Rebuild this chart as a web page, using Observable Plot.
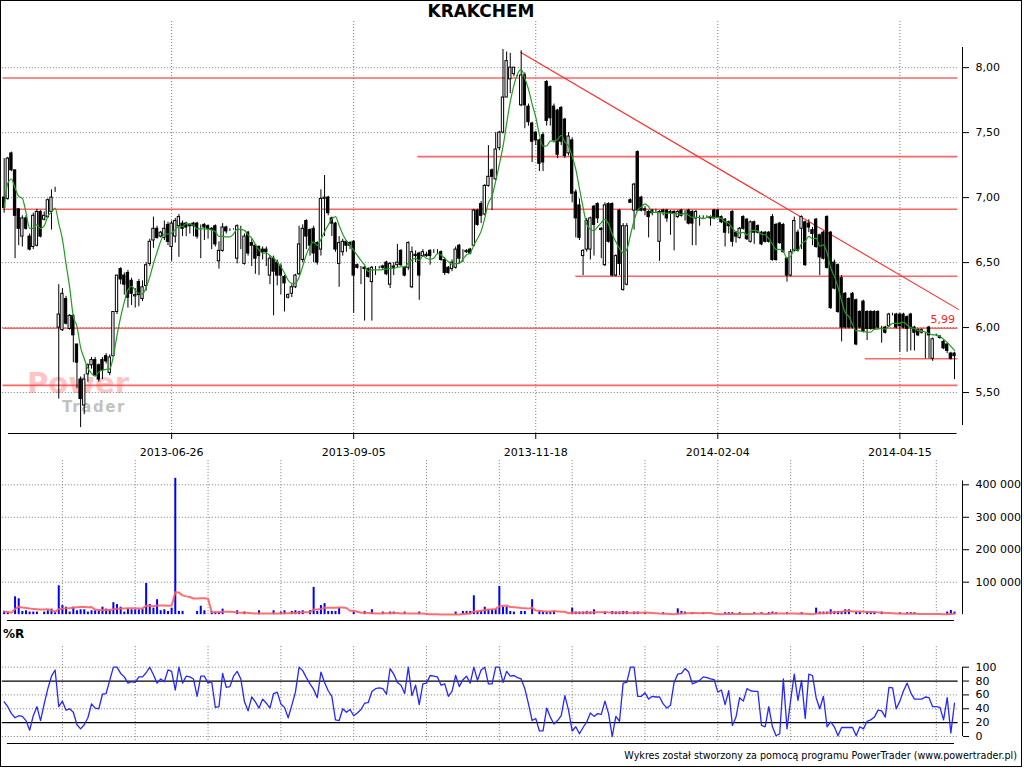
<!DOCTYPE html>
<html>
<head>
<meta charset="utf-8">
<script src="https://cdn.jsdelivr.net/npm/d3@7"></script>
<script src="https://cdn.jsdelivr.net/npm/@observablehq/plot@0.6"></script>
<style>
  html, body { margin: 0; padding: 0; background: #fff; }
  #wrap { position: relative; width: 1024px; height: 768px; overflow: hidden; font-family: "DejaVu Sans", sans-serif; color: #000; }
  .panel { position: absolute; left: 0; }
  .panel svg { display: block; overflow: visible; }
  #frame { position: absolute; left: 0; top: 0; width: 1022px; height: 767px; border: 1px solid #000; box-sizing: border-box; pointer-events: none; }
  #title { position: absolute; top: 1px; left: 331px; width: 300px; text-align: center; font-weight: bold; font-size: 17px; line-height: 20px; }
  #wlabel { position: absolute; top: 627px; left: 3px; font-weight: bold; font-size: 12px; line-height: 14px; }
  #footer { position: absolute; top: 750px; right: 7px; font-size: 9.6px; line-height: 12px; white-space: nowrap; }
  #wm1 { position: absolute; left: 27px; top: 366px; font-size: 29px; font-weight: bold; color: rgba(255,110,110,0.42); line-height: 34px; }
  #wm2 { position: absolute; left: 62px; top: 398px; font-size: 15px; font-weight: bold; letter-spacing: 1.6px; color: rgba(140,140,140,0.55); line-height: 18px; }
</style>
</head>
<body>
<div id="wrap">
  <div id="wm1">Power</div>
  <div id="wm2">Trader</div>
  <div id="price" class="panel" style="top:0px"></div>
  <div id="vol" class="panel" style="top:440px"></div>
  <div id="wr" class="panel" style="top:620px"></div>
  <div id="title">KRAKCHEM</div>
  <div id="wlabel">%R</div>
  <div id="footer">Wykres został stworzony za pomocą programu PowerTrader (www.powertrader.pl)</div>
  <div id="frame"></div>
</div>
<script>
// ---------- DATA ----------
const dateTickIdx = [46, 96, 146, 196, 246];
const dateLabels = ["2013-06-26", "2013-09-05", "2013-11-18", "2014-02-04", "2014-04-15"];
const subGridIdx = [16, 36, 56, 76, 96, 116, 136, 156, 176, 196, 216, 236, 256];
const priceTicks = [5.5, 6.0, 6.5, 7.0, 7.5, 8.0];
const volumeTicks = [100000, 200000, 300000, 400000];
const wrTicks = [0, 20, 40, 60, 80, 100];
const wrDotted = [0, 40, 60, 100];
const wrLevels = [20, 80];

const open = [
7.00,6.99,7.34,7.21,6.91,6.70,6.84,6.70,6.62,6.63,
6.89,6.83,6.85,6.89,7.06,6.00,5.98,6.22,5.99,6.09,
5.87,5.60,5.40,5.64,5.71,5.75,5.71,5.75,5.78,5.65,
5.78,6.12,6.45,6.40,6.42,6.36,6.24,6.35,6.22,6.32,
6.49,6.67,6.76,6.70,6.69,6.79,6.62,6.70,6.78,6.80,
6.80,6.79,6.80,6.80,6.77,6.79,6.78,6.76,6.78,6.51,
6.59,6.77,6.75,6.75,6.53,6.76,6.49,6.73,6.65,6.63,
6.62,6.60,6.60,6.40,6.53,6.50,6.47,6.39,6.23,6.26,
6.31,6.41,6.52,6.82,6.75,6.76,6.65,6.60,6.99,7.00,
6.84,6.80,6.49,6.58,6.66,6.65,6.66,6.48,6.46,6.46,
6.45,6.35,6.46,6.46,6.47,6.50,6.33,6.47,6.48,6.59,
6.46,6.46,6.31,6.56,6.57,6.55,6.56,6.59,6.59,6.58,
6.58,6.52,6.46,6.45,6.46,6.63,6.58,6.58,6.60,6.63,
6.90,6.95,6.87,7.09,7.21,7.14,7.38,7.50,7.77,7.91,
7.95,7.94,7.71,7.94,7.70,7.57,7.50,7.44,7.48,7.89,
7.85,7.70,7.67,7.69,7.60,7.34,7.44,7.04,6.94,6.55,
6.60,6.60,6.93,6.95,6.76,6.48,6.95,6.95,6.40,6.90,
6.29,6.33,6.98,6.90,7.35,7.00,6.91,6.89,6.90,6.90,
6.66,6.90,6.90,6.89,6.89,6.85,6.90,6.89,6.90,6.89,
6.84,6.85,6.85,6.85,6.85,6.90,6.90,6.85,6.83,6.81,
6.89,6.73,6.69,6.85,6.83,6.66,6.81,6.78,6.73,6.73,
6.73,6.85,6.79,6.80,6.79,6.53,6.40,6.59,6.73,6.76,
6.81,6.80,6.75,6.83,6.71,6.73,6.85,6.73,6.50,6.48,
6.38,6.26,6.22,6.26,6.21,6.12,6.20,6.12,6.12,6.12,
6.12,6.00,6.00,6.01,6.10,6.10,6.10,6.10,6.08,6.10,
6.00,5.98,5.96,5.95,6.00,5.76,5.94,5.93,5.89,5.87,
5.80,5.80];
const high = [
7.30,7.31,7.35,7.21,6.91,6.86,6.86,6.72,6.88,6.91,
6.90,6.89,6.99,7.06,7.08,6.33,6.30,6.24,6.10,6.10,
5.87,5.62,5.64,5.72,5.77,5.77,5.72,5.77,5.80,5.79,
6.12,6.40,6.46,6.42,6.44,6.38,6.30,6.37,6.36,6.50,
6.68,6.85,6.78,6.74,6.82,6.81,6.82,6.84,6.87,6.82,
6.81,6.80,6.81,6.81,6.79,6.80,6.79,6.77,6.79,6.66,
6.80,6.78,6.76,6.76,6.79,6.78,6.72,6.74,6.68,6.64,
6.63,6.62,6.62,6.55,6.55,6.52,6.49,6.40,6.26,6.33,
6.41,6.78,6.79,6.83,6.76,6.78,6.66,7.06,7.17,7.01,
6.85,6.81,6.70,6.68,6.67,6.66,6.67,6.49,6.47,6.47,
6.46,6.47,6.47,6.47,6.48,6.51,6.50,6.50,6.64,6.60,
6.47,6.66,6.62,6.59,6.58,6.60,6.58,6.60,6.60,6.60,
6.59,6.54,6.47,6.52,6.62,6.64,6.60,6.60,6.61,6.91,
6.91,6.97,7.10,7.40,7.22,7.50,7.51,8.14,8.12,8.11,
8.00,7.95,8.13,7.96,7.72,7.58,7.51,7.45,7.50,7.90,
7.86,7.72,7.68,7.70,7.61,7.50,7.46,7.06,6.99,6.60,
6.84,6.85,6.94,6.96,6.77,6.96,6.96,6.96,6.56,6.91,
6.80,6.80,6.99,7.11,7.36,7.01,6.93,6.90,6.91,6.91,
6.90,6.91,6.91,6.90,6.90,6.90,6.91,6.90,6.91,6.90,
6.90,6.86,6.86,6.86,6.86,6.91,6.91,6.86,6.84,6.82,
6.90,6.74,6.77,6.86,6.84,6.82,6.82,6.79,6.74,6.74,
6.74,6.87,6.80,6.81,6.80,6.54,6.60,6.85,6.75,6.86,
6.82,6.83,6.77,6.84,6.72,6.74,6.86,6.74,6.52,6.49,
6.40,6.27,6.23,6.27,6.22,6.13,6.21,6.13,6.13,6.13,
6.13,6.01,6.01,6.11,6.11,6.11,6.11,6.11,6.09,6.11,
6.01,5.99,5.99,5.96,6.01,5.92,5.95,5.94,5.90,5.88,
5.81,5.81];
const low = [
6.88,6.98,7.20,6.53,6.63,6.62,6.75,6.59,6.60,6.62,
6.69,6.82,6.84,6.75,7.04,5.45,5.97,6.02,5.98,5.73,
5.53,5.23,5.33,5.58,5.68,5.62,5.58,5.60,5.72,5.63,
5.77,6.10,6.33,6.25,6.15,6.17,6.15,6.16,6.20,6.28,
6.47,6.61,6.68,6.69,6.67,6.63,6.51,6.65,6.54,6.70,
6.70,6.72,6.70,6.68,6.53,6.67,6.68,6.60,6.62,6.45,
6.58,6.72,6.74,6.75,6.49,6.60,6.48,6.55,6.47,6.41,
6.40,6.52,6.47,6.33,6.09,6.32,6.25,6.12,6.22,6.23,
6.30,6.40,6.50,6.60,6.55,6.50,6.48,6.55,6.70,6.86,
6.70,6.58,6.31,6.55,6.58,6.60,6.11,6.45,6.33,6.05,
6.38,6.05,6.40,6.45,6.44,6.40,6.30,6.40,6.46,6.47,
6.39,6.44,6.30,6.50,6.21,6.54,6.54,6.48,6.57,6.56,
6.51,6.40,6.41,6.43,6.45,6.49,6.50,6.57,6.56,6.62,
6.78,6.80,6.86,7.08,6.90,7.13,7.36,7.49,7.77,7.80,
7.93,7.93,7.70,7.53,7.55,7.27,7.40,7.20,7.20,7.55,
7.55,7.42,7.30,7.40,7.30,7.32,6.96,6.69,6.67,6.40,
6.58,6.52,6.55,6.80,6.53,6.47,6.65,6.39,6.39,6.40,
6.28,6.32,6.96,6.75,6.89,6.89,6.86,6.69,6.86,6.88,
6.51,6.86,6.81,6.71,6.59,6.84,6.85,6.82,6.79,6.63,
6.63,6.78,6.84,6.84,6.78,6.83,6.84,6.80,6.62,6.72,
6.62,6.65,6.68,6.75,6.67,6.65,6.64,6.72,6.63,6.65,
6.65,6.51,6.51,6.64,6.57,6.35,6.39,6.58,6.58,6.60,
6.47,6.73,6.63,6.61,6.40,6.52,6.45,6.14,6.29,6.11,
5.89,5.99,5.99,5.99,5.86,5.99,5.96,5.90,5.98,5.98,
5.99,5.88,5.95,6.00,6.09,5.99,5.81,5.99,5.81,5.82,
5.82,5.93,5.95,5.76,5.76,5.74,5.93,5.91,5.83,5.80,
5.75,5.60];
const close = [
6.92,7.30,7.21,6.86,6.76,6.84,6.76,6.60,6.86,6.89,
6.70,6.86,6.98,7.00,7.06,6.10,6.26,6.03,6.09,5.94,
5.73,5.45,5.60,5.71,5.75,5.63,5.60,5.67,5.74,5.77,
6.12,6.40,6.37,6.33,6.23,6.26,6.25,6.25,6.31,6.48,
6.66,6.76,6.69,6.73,6.76,6.66,6.80,6.82,6.85,6.76,
6.77,6.78,6.78,6.70,6.77,6.77,6.76,6.75,6.64,6.59,
6.77,6.74,6.75,6.75,6.78,6.76,6.70,6.57,6.63,6.53,
6.55,6.58,6.58,6.53,6.43,6.40,6.40,6.34,6.25,6.31,
6.40,6.64,6.76,6.70,6.63,6.57,6.50,6.99,7.00,6.88,
6.80,6.60,6.65,6.66,6.63,6.63,6.40,6.46,6.46,6.45,
6.39,6.46,6.46,6.46,6.46,6.41,6.49,6.46,6.50,6.48,
6.40,6.65,6.58,6.55,6.40,6.58,6.55,6.55,6.59,6.58,
6.52,6.42,6.42,6.50,6.60,6.53,6.58,6.59,6.57,6.90,
6.79,6.86,7.09,7.16,7.16,7.37,7.50,7.77,8.05,8.00,
8.00,7.94,7.94,7.71,7.58,7.43,7.44,7.26,7.27,7.59,
7.61,7.44,7.33,7.43,7.32,7.47,7.03,6.84,6.69,6.59,
6.82,6.84,6.79,6.84,6.75,6.94,6.66,6.40,6.55,6.49,
6.78,6.78,6.96,7.10,6.90,6.90,6.90,6.85,6.88,6.90,
6.89,6.89,6.84,6.88,6.88,6.89,6.86,6.89,6.80,6.80,
6.89,6.85,6.85,6.85,6.84,6.84,6.85,6.81,6.73,6.78,
6.66,6.70,6.76,6.76,6.68,6.81,6.73,6.73,6.64,6.66,
6.66,6.52,6.52,6.65,6.58,6.40,6.58,6.82,6.59,6.85,
6.48,6.77,6.72,6.62,6.54,6.53,6.46,6.15,6.30,6.12,
6.00,6.00,6.00,6.00,5.87,6.00,5.97,5.99,5.99,5.99,
6.00,6.00,5.96,6.10,6.10,6.00,6.01,6.00,5.99,6.00,
5.96,5.94,5.98,5.95,5.94,5.91,5.94,5.92,5.84,5.82,
5.76,5.78];

// volume in thousands of shares
const volumeK = [
10,7,0,55,49,10,12,8,8,8,
0,8,12,17,8,89,28,23,8,23,
12,15,15,8,12,12,12,23,17,15,
37,31,23,8,17,15,15,15,17,96,
31,20,46,12,15,10,20,420,10,10,
0,0,0,10,26,12,0,10,8,8,
17,0,0,0,12,0,8,0,0,0,
12,0,0,0,12,0,8,12,0,10,
12,10,12,0,12,84,10,28,34,10,
10,10,20,0,0,0,8,0,0,10,
0,15,0,0,8,0,8,8,0,0,
8,0,0,0,8,0,0,0,0,0,
0,0,0,0,8,0,10,10,10,58,
10,12,23,15,15,15,87,23,23,10,
8,0,10,10,0,46,0,10,8,8,
8,10,0,0,0,0,20,8,8,8,
10,8,15,0,0,8,0,10,8,8,
10,10,0,8,8,0,6,0,0,0,
0,6,0,0,0,18,10,8,0,6,
0,0,6,0,0,0,0,0,6,6,
6,0,6,0,0,0,6,0,6,0,
6,8,6,0,0,6,0,0,0,6,
0,0,0,20,8,8,8,15,10,10,
10,15,15,0,8,8,0,8,8,8,
0,8,0,0,0,0,6,0,6,6,
6,0,0,0,0,0,0,0,0,8,
13,8];

// Williams %R
const williamsR = [
50,43,33,27,30,29,23,9,30,43,
23,47,69,87,96,43,51,38,40,35,
17,11,17,27,47,41,40,61,62,81,
100,100,91,86,77,79,78,86,86,92,
100,89,77,83,79,96,94,67,100,77,
87,86,83,58,87,87,77,79,42,43,
91,71,72,87,94,83,50,37,57,50,
41,54,48,41,62,64,47,42,27,45,
64,100,95,85,76,68,56,93,78,66,
58,24,23,40,35,39,30,34,39,48,
49,65,69,70,69,61,98,90,78,74,
62,100,59,74,46,76,77,88,87,86,
74,76,58,65,88,72,82,87,77,100,
81,96,100,76,76,100,100,78,94,87,
88,85,83,69,47,23,26,8,8,41,
28,18,23,30,59,38,8,14,4,13,
21,34,29,33,32,51,33,0,29,22,
77,78,100,100,58,58,63,54,58,57,
57,47,41,45,78,90,91,98,93,76,
78,81,86,85,83,82,64,67,46,66,
16,28,56,51,69,66,65,65,16,14,
43,14,1,4,83,11,52,90,52,81,
26,90,88,56,40,58,14,21,14,1,
13,13,13,13,1,14,11,22,24,28,
38,37,28,71,70,40,51,66,77,63,
54,54,54,57,56,43,43,42,24,56,
5,48];

// support / resistance levels drawn on the price chart
const supportLevel = [7.92, 7.315, 6.91, 6.395, 5.995, 5.76, 5.555];
const supportFrom  = [-0.3, 113.6, -0.3, 157, -0.3, 236.5, -0.3];
const supportTo    = [261.9, 261.9, 261.9, 261.9, 261.9, 261.9, 261.9];
// trend line endpoints (bar index, price)
const trendStart = [141.8, 8.118];
const trendEnd   = [262.2, 6.138];
// annotation
const noteText = ["5,99"];
const noteAt = [257.8];
const noteLevel = [5.995];

// ---------- BUILD ----------
const bars = open.map((o, i) => ({i, open: o, high: high[i], low: low[i], close: close[i]}));
const vols = volumeK.map((v, i) => ({i, v: v * 1000}));
const wr = williamsR.map((v, i) => ({i, v}));
const supports = supportLevel.map((l, k) => ({level: l, from: supportFrom[k], to: supportTo[k]}));
const trend = [{i1: trendStart[0], p1: trendStart[1], i2: trendEnd[0], p2: trendEnd[1]}];
const notes = noteText.map((t, k) => ({text: t, i: noteAt[k], level: noteLevel[k]}));

const xDomain = [-1, 263.2];
const gridFrom = -0.5, gridTo = 262;
const axisFrom = 1.2, axisTo = 261.7;
const dotted = {stroke: "#7a7a7a", strokeDasharray: "1 2", strokeWidth: 1};
const style = {background: "transparent", fontFamily: "'DejaVu Sans', sans-serif", fontSize: "11px", color: "#000", overflow: "visible"};
const base = {width: 1024, marginLeft: 0, marginRight: 62, x: {domain: xDomain, axis: null}, style};

const priceMin = 5.185, priceMax = 8.155;
const pricePlot = Plot.plot({
  ...base,
  height: 465, marginTop: 47, marginBottom: 32,
  y: {domain: [priceMin, priceMax], axis: null},
  marks: [
    Plot.ruleY(priceTicks, {x1: gridFrom, x2: gridTo, ...dotted}),
    Plot.ruleX(dateTickIdx, {y1: priceMin, y2: 8.36, ...dotted}),
    Plot.ruleY(supports, {y: "level", x1: "from", x2: "to", stroke: "#ff4a4a", strokeWidth: 1.6, strokeOpacity: 0.85}),
    Plot.link(trend, {x1: "i1", y1: "p1", x2: "i2", y2: "p2", stroke: "#ff2a2a", strokeWidth: 1.1}),
    Plot.ruleX(bars, {x: "i", y1: "low", y2: "high", stroke: "#000", strokeWidth: 1}),
    Plot.rect(bars.filter(d => d.close >= d.open), {x1: d => d.i - 0.32, x2: d => d.i + 0.32, y1: "open", y2: "close", fill: "#fff", stroke: "#000", strokeWidth: 1}),
    Plot.rect(bars.filter(d => d.close < d.open), {x1: d => d.i - 0.32, x2: d => d.i + 0.32, y1: "open", y2: "close", fill: "#000", stroke: "#000", strokeWidth: 1}),
    Plot.lineY(bars, Plot.windowY({k: 5, anchor: "end", reduce: "mean"}, {x: "i", y: "close", stroke: "#1f9e1f", strokeWidth: 1.2, curve: "monotone-x"})),
    Plot.text(notes, {x: "i", y: "level", text: "text", dy: -9, fill: "#ff2020", fontSize: 11}),
    Plot.axisY(priceTicks, {anchor: "right", label: null, tickSize: 6, tickPadding: 7, tickFormat: d => d.toFixed(2).replace(".", ",")}),
    Plot.ruleX([xDomain[1]], {y1: 5.246, y2: priceMax, stroke: "#000"}),
    Plot.axisX(dateTickIdx, {anchor: "bottom", label: null, tickSize: 6, tickPadding: 9, tickFormat: d => dateLabels[dateTickIdx.indexOf(d)]}),
    Plot.ruleY([priceMin], {x1: axisFrom, x2: axisTo, stroke: "#000"})
  ]
});
document.getElementById("price").append(pricePlot);

const volMin = -18000, volMax = 478000;
const volPlot = Plot.plot({
  ...base,
  height: 185, marginTop: 19, marginBottom: 5,
  y: {domain: [volMin, volMax], axis: null},
  marks: [
    Plot.ruleY(volumeTicks, {x1: gridFrom, x2: gridTo, ...dotted}),
    Plot.ruleX(subGridIdx, {y1: 0, y2: volMax, ...dotted}),
    Plot.ruleX(vols.filter(d => d.v > 0), {x: "i", y1: 0, y2: "v", stroke: "#0000ff", strokeWidth: 2}),
    Plot.lineY(vols, Plot.windowY({k: 10, anchor: "end", reduce: "mean"}, {x: "i", y: "v", stroke: "#ff5f5f", strokeWidth: 2, strokeOpacity: 0.9})),
    Plot.axisY(volumeTicks, {anchor: "right", label: null, tickSize: 6, tickPadding: 7, tickFormat: d => d3.format(",")(d).replace(/,/g, " ")}),
    Plot.ruleX([xDomain[1]], {y1: 0, y2: 412000, stroke: "#000"}),
    Plot.ruleY([volMin], {x1: 0.9, x2: 261, stroke: "#000"})
  ]
});
document.getElementById("vol").append(volPlot);

const wrMin = -10.1, wrMax = 131;
const wrPlot = Plot.plot({
  ...base,
  height: 130, marginTop: 25.2, marginBottom: 7,
  y: {domain: [wrMin, wrMax], axis: null},
  marks: [
    Plot.ruleY(wrDotted, {x1: gridFrom, x2: gridTo, ...dotted}),
    Plot.ruleX(subGridIdx, {y1: -6, y2: wrMax, ...dotted}),
    Plot.ruleY(wrLevels, {x1: gridFrom, x2: gridTo, stroke: "#000", strokeWidth: 1.2}),
    Plot.lineY(wr, {x: "i", y: "v", stroke: "#2626ff", strokeWidth: 1.3}),
    Plot.axisY(wrTicks, {anchor: "right", label: null, tickSize: 6, tickPadding: 7}),
    Plot.ruleX([xDomain[1]], {y1: 0, y2: 100, stroke: "#000"}),
    Plot.ruleY([wrMin], {x1: 0.9, x2: 261, stroke: "#000"})
  ]
});
document.getElementById("wr").append(wrPlot);
</script>
</body>
</html>
